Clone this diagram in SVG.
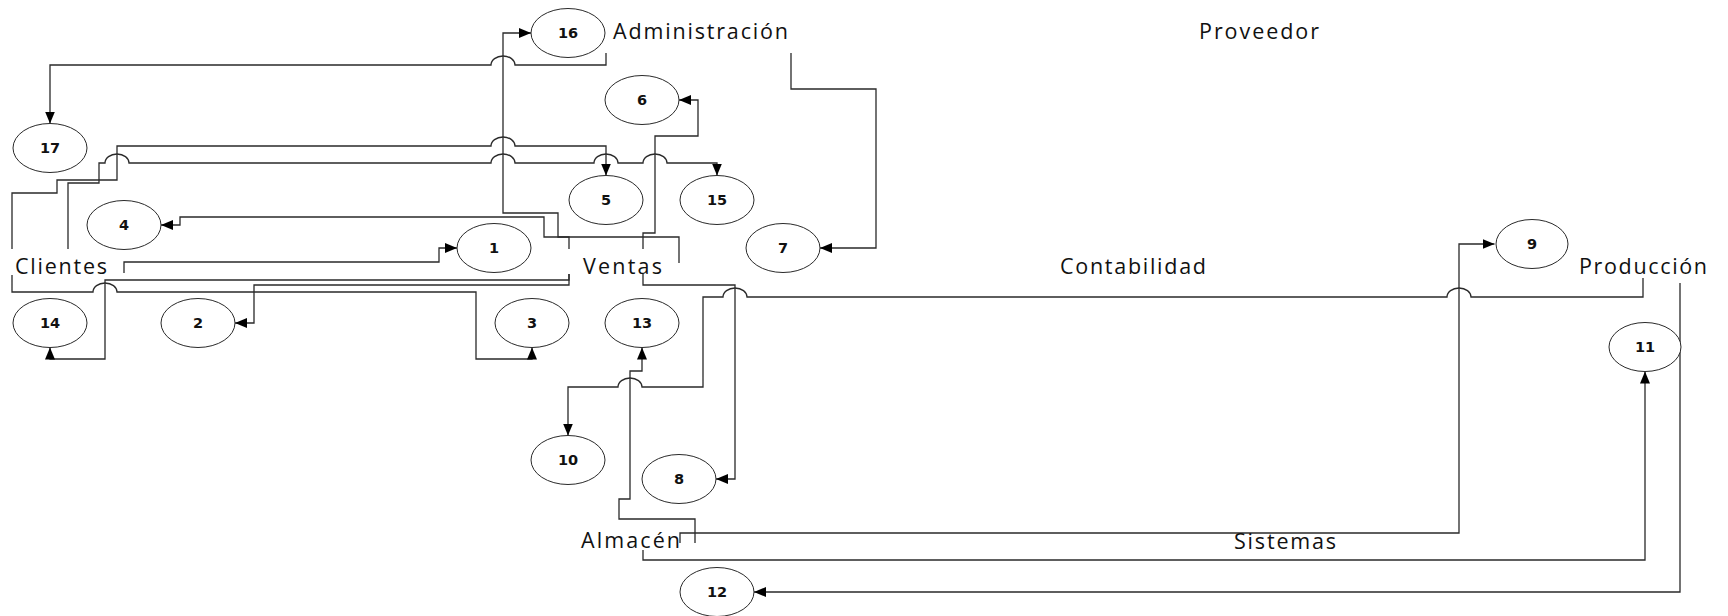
<svg xmlns="http://www.w3.org/2000/svg" width="1728" height="616" viewBox="0 0 1728 616">
<style>
.bg{fill:#ffffff}
.c{fill:none;stroke:#2a2a2a;stroke-width:1.3;marker-end:url(#ah)}
.e{fill:#ffffff;stroke:#2a2a2a;stroke-width:1}
.num{font-family:"DejaVu Sans",sans-serif;font-weight:bold;font-size:14.5px;fill:#111;text-anchor:middle}
.lbl{font-family:"Open Sans","Liberation Sans",sans-serif;font-size:21.5px;fill:#111}
</style>
<defs>
<marker id="ah" markerUnits="userSpaceOnUse" markerWidth="12" markerHeight="10" refX="12" refY="5" orient="auto" viewBox="0 0 12 10">
<path d="M0,0 L12,5 L0,10 z" fill="#000"/>
</marker>
</defs>
<rect class="bg" x="0" y="0" width="1728" height="616"/>
<g id="connectors">
<path id="c17" class="c" d="M606,53 V65 H515 A12,9 0 0 0 491,65 H50 V123.5"/>
<path id="c5" class="c" d="M12,249 V193 H57 V180 H117 V146 H491 A12,9 0 0 1 515,146 H606 V175.5"/>
<path id="c15" class="c" d="M68,249 V183 H99 V163 H105 A12,9 0 0 1 129,163 H491 A12,9 0 0 1 515,163 H594 A12,9 0 0 1 618,163 H643 A12,9 0 0 1 667,163 H717 V175.5"/>
<path id="c4" class="c" d="M679,263 V237 H544 V217 H180 V225 H161"/>
<path id="c16" class="c" d="M569,249 V237 H558 V213 H503 V33 H531"/>
<path id="c6" class="c" d="M643,249 V233 H655 V136 H698 V100 H679"/>
<path id="c1" class="c" d="M124,273 V262 H439 V248 H457"/>
<path id="c14" class="c" d="M569,274 V280 H105 V359 H50 V347.5"/>
<path id="c2" class="c" d="M569,274 V285 H254 V323 H235"/>
<path id="c3" class="c" d="M12,275 V292 H93 A12,9 0 0 1 117,292 H476 V359 H532 V347.5"/>
<path id="c7" class="c" d="M791,53 V89 H876 V248 H820"/>
<path id="c8" class="c" d="M643,274 V285 H735 V479 H716"/>
<path id="c10" class="c" d="M1643,278 V297 H1471 A12,9 0 0 0 1447,297 H747 A12,9 0 0 0 723,297 H703 V387 H642 A12,9 0 0 0 618,387 H568 V435.5"/>
<path id="c13" class="c" d="M695,543 V519 H619 V499 H630 V371 H642 V347.5"/>
<path id="c9" class="c" d="M680,543 V533 H1459 V244 H1494.5"/>
<path id="c11" class="c" d="M643,550 V560 H1645 V371.5"/>
<path id="c12" class="c" d="M1680,283 V592 H754"/>
</g>
<g id="n17"><ellipse class="e" cx="50" cy="148" rx="37" ry="24.5"/><text class="num" x="50" y="153">17</text></g>
<g id="n4"><ellipse class="e" cx="124" cy="225" rx="37" ry="24.5"/><text class="num" x="124" y="230">4</text></g>
<g id="n14"><ellipse class="e" cx="50" cy="323" rx="37" ry="24.5"/><text class="num" x="50" y="328">14</text></g>
<g id="n2"><ellipse class="e" cx="198" cy="323" rx="37" ry="24.5"/><text class="num" x="198" y="328">2</text></g>
<g id="n1"><ellipse class="e" cx="494" cy="248" rx="37" ry="24.5"/><text class="num" x="494" y="253">1</text></g>
<g id="n16"><ellipse class="e" cx="568" cy="33" rx="37" ry="24.5"/><text class="num" x="568" y="38">16</text></g>
<g id="n6"><ellipse class="e" cx="642" cy="100" rx="37" ry="24.5"/><text class="num" x="642" y="105">6</text></g>
<g id="n5"><ellipse class="e" cx="606" cy="200" rx="37" ry="24.5"/><text class="num" x="606" y="205">5</text></g>
<g id="n15"><ellipse class="e" cx="717" cy="200" rx="37" ry="24.5"/><text class="num" x="717" y="205">15</text></g>
<g id="n7"><ellipse class="e" cx="783" cy="248" rx="37" ry="24.5"/><text class="num" x="783" y="253">7</text></g>
<g id="n3"><ellipse class="e" cx="532" cy="323" rx="37" ry="24.5"/><text class="num" x="532" y="328">3</text></g>
<g id="n13"><ellipse class="e" cx="642" cy="323" rx="37" ry="24.5"/><text class="num" x="642" y="328">13</text></g>
<g id="n10"><ellipse class="e" cx="568" cy="460" rx="37" ry="24.5"/><text class="num" x="568" y="465">10</text></g>
<g id="n8"><ellipse class="e" cx="679" cy="479" rx="37" ry="24.5"/><text class="num" x="679" y="484">8</text></g>
<g id="n12"><ellipse class="e" cx="717" cy="592" rx="37" ry="24.5"/><text class="num" x="717" y="597">12</text></g>
<g id="n9"><ellipse class="e" cx="1532" cy="244" rx="36" ry="24.5"/><text class="num" x="1532" y="249">9</text></g>
<g id="n11"><ellipse class="e" cx="1645" cy="347" rx="36" ry="24.5"/><text class="num" x="1645" y="352">11</text></g>
<g id="e-administracion"><text class="lbl" x="613" y="39" textLength="175" lengthAdjust="spacing">Administración</text></g>
<g id="e-proveedor"><text class="lbl" x="1199" y="39" textLength="120" lengthAdjust="spacing">Proveedor</text></g>
<g id="e-clientes"><text class="lbl" x="15" y="274" textLength="92" lengthAdjust="spacing">Clientes</text></g>
<g id="e-ventas"><text class="lbl" x="583" y="274" textLength="79" lengthAdjust="spacing">Ventas</text></g>
<g id="e-contabilidad"><text class="lbl" x="1060" y="274" textLength="146" lengthAdjust="spacing">Contabilidad</text></g>
<g id="e-produccion"><text class="lbl" x="1579" y="274" textLength="128" lengthAdjust="spacing">Producción</text></g>
<g id="e-almacen"><text class="lbl" x="581" y="548" textLength="99" lengthAdjust="spacing">Almacén</text></g>
<g id="e-sistemas"><text class="lbl" x="1234" y="549" textLength="102" lengthAdjust="spacing">Sistemas</text></g>
</svg>
